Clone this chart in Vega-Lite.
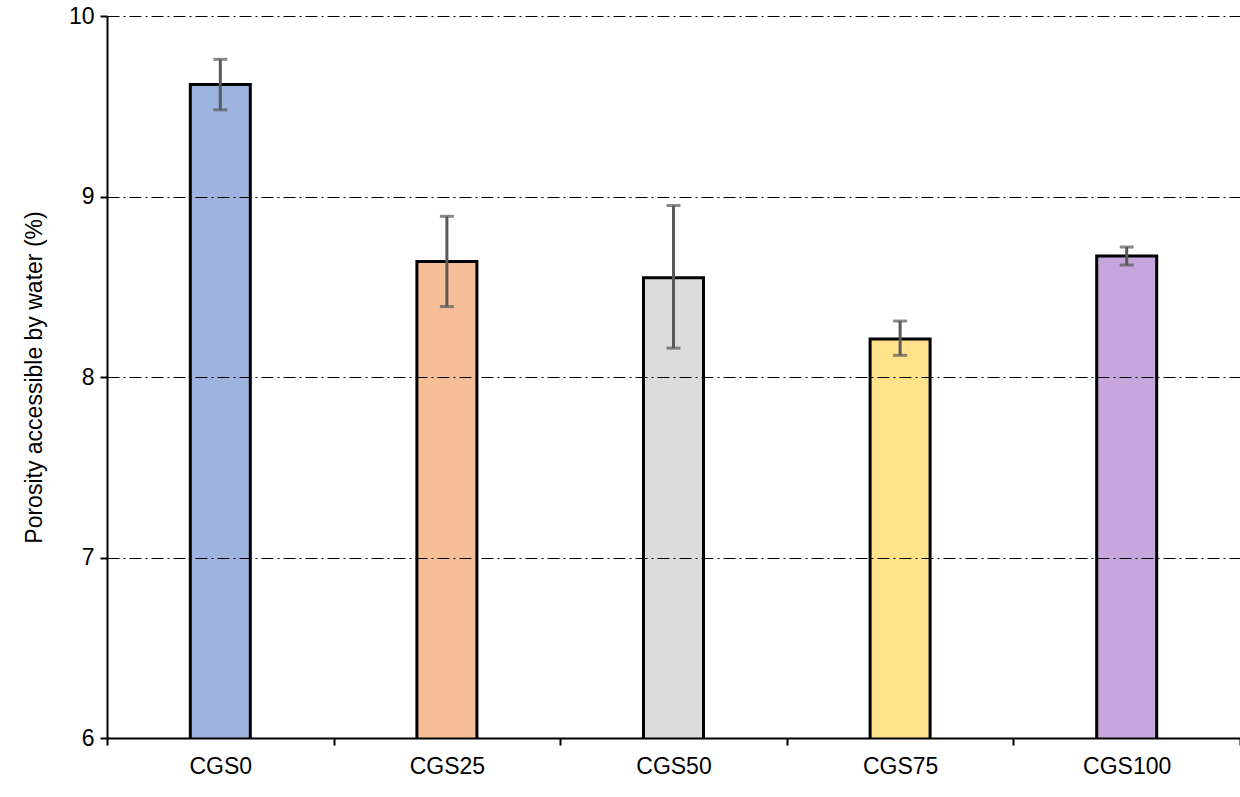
{
  "$schema": "https://vega.github.io/schema/vega-lite/v6.json",
  "width": 1133,
  "height": 722,
  "autosize": "none",
  "padding": {"left": 107, "top": 16, "right": 0, "bottom": 59},
  "background": "white",
  "data": {
    "values": [
      {"mix": "CGS0", "porosity": 9.62, "low": 9.48, "high": 9.76, "edge": "#4472C4", "tint": "#9DB4E0"},
      {"mix": "CGS25", "porosity": 8.64, "low": 8.39, "high": 8.89, "edge": "#ED7D31", "tint": "#F5BE97"},
      {"mix": "CGS50", "porosity": 8.55, "low": 8.16, "high": 8.95, "edge": "#A5A5A5", "tint": "#DCDCDC"},
      {"mix": "CGS75", "porosity": 8.21, "low": 8.12, "high": 8.31, "edge": "#FFC000", "tint": "#FFE38A"},
      {"mix": "CGS100", "porosity": 8.67, "low": 8.62, "high": 8.72, "edge": "#7030A0", "tint": "#C6A6DC"}
    ]
  },
  "encoding": {
    "x": {
      "field": "mix",
      "type": "nominal",
      "sort": null,
      "title": null,
      "scale": {"paddingInner": 0, "paddingOuter": 0},
      "axis": {
        "labelAngle": 0,
        "labelFontSize": 23,
        "labelFont": "Liberation Sans",
        "labelColor": "black",
        "labelPadding": 10,
        "domainColor": "black",
        "domainWidth": 2,
        "tickColor": "black",
        "tickWidth": 2,
        "tickSize": 7,
        "tickBand": "extent",
        "zindex": 1
      }
    }
  },
  "layer": [
    {
      "mark": {"type": "bar", "width": 60, "stroke": "black", "strokeWidth": 3, "clip": true},
      "encoding": {
        "y": {
          "field": "porosity",
          "type": "quantitative",
          "scale": {"domain": [6, 10], "nice": false},
          "title": "Porosity accessible by water (%)",
          "axis": {
            "values": [6, 6.5, 7, 7.5, 8, 8.5, 9, 9.5, 10],
            "format": "d",
            "labelExpr": "datum.value % 1 == 0 ? datum.label : ''",
            "labelFontSize": 23,
            "labelFont": "Liberation Sans",
            "labelColor": "black",
            "labelPadding": 6,
            "titleFontSize": 23,
            "titleFont": "Liberation Sans",
            "titleFontWeight": "normal",
            "titleColor": "black",
            "titlePadding": 22,
            "domainColor": "black",
            "domainWidth": 2,
            "tickColor": "black",
            "tickWidth": 2,
            "tickSize": 7,
            "grid": true,
            "gridColor": "black",
            "gridWidth": 1.2,
            "gridDash": [12, 4, 2, 4],
            "gridOpacity": {"condition": {"test": "datum.value % 1 == 0 && datum.value > 6", "value": 1}, "value": 0},
            "zindex": 1
          }
        },
        "fill": {"field": "tint", "type": "nominal", "scale": null}
      }
    },
    {
      "mark": {"type": "rule", "color": "#595959", "strokeWidth": 3},
      "encoding": {
        "y": {"field": "low", "type": "quantitative"},
        "y2": {"field": "high"}
      }
    },
    {
      "mark": {"type": "tick", "color": "#595959", "thickness": 3, "size": 14},
      "encoding": {"y": {"field": "low", "type": "quantitative"}}
    },
    {
      "mark": {"type": "tick", "color": "#595959", "thickness": 3, "size": 14},
      "encoding": {"y": {"field": "high", "type": "quantitative"}}
    }
  ],
  "config": {"view": {"stroke": null}}
}
